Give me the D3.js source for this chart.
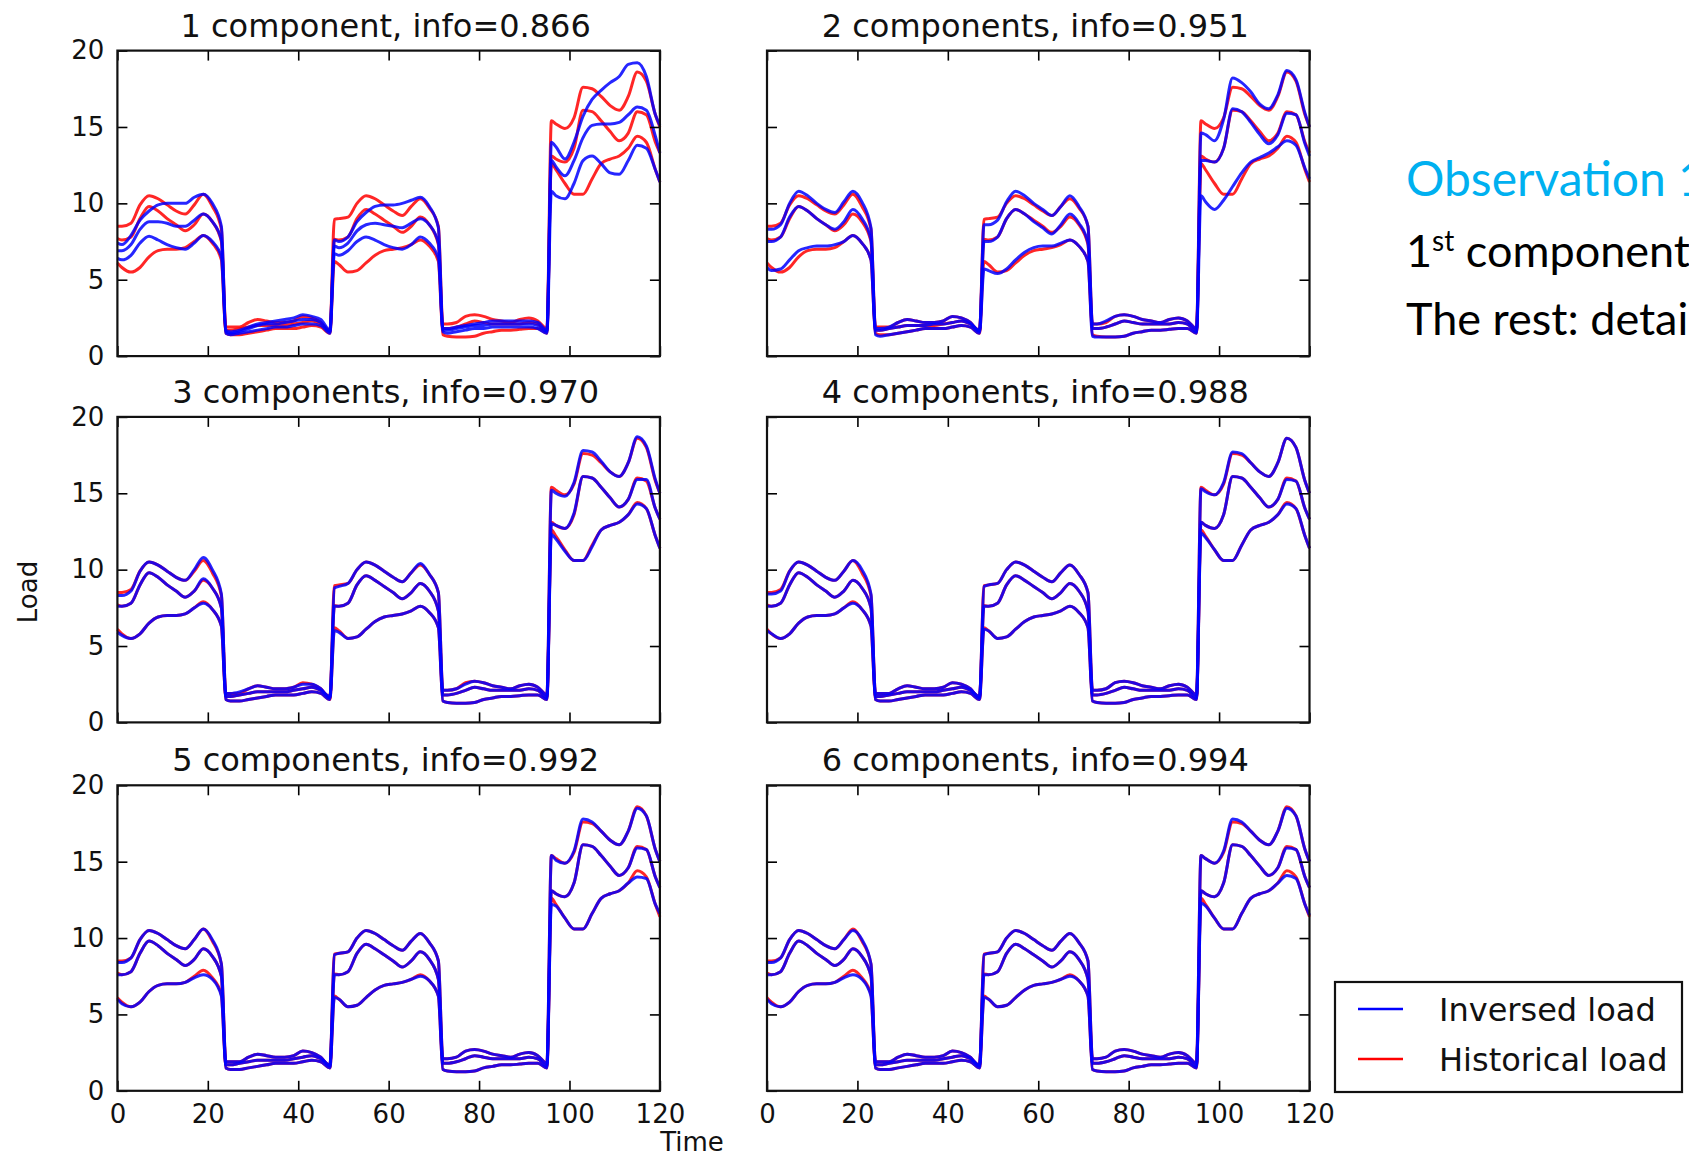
<!DOCTYPE html>
<html>
<head>
<meta charset="utf-8">
<script src="https://cdn.jsdelivr.net/npm/d3@7"></script>
<style>
  body { margin: 0; background: #fff; overflow: hidden; }
  svg { display: block; }
</style>
</head>
<body>
<svg id="chart" width="1689" height="1157"></svg>
<script>
'use strict';

// Data
// Hours at which the curves were read (5 days, day / night blocks of 24h)
let hours = [
  0,1,3,5,7,9,11,13,15,17,19,21,23,
  24,25,27,29,31,33,35,37,39,41,43,45,47,
  48,49,51,53,55,57,59,61,63,65,67,69,71,
  72,73,75,77,79,81,83,85,87,89,91,93,95,
  96,97,99,101,103,105,107,109,111,113,115,117,119,120
];

// Historical load, same three curves in every panel
let historicalLoad = [
  [8.5,8.5,8.7,9.9,10.5,10.3,9.9,9.5,9.3,9.9,10.6,9.8,8.3,
   1.9,1.9,1.9,2.2,2.4,2.3,2.2,2.2,2.3,2.6,2.5,2.2,1.6,
   8.95,9.0,9.1,10.0,10.5,10.3,9.9,9.5,9.2,9.8,10.3,9.7,8.5,
   2.1,2.1,2.2,2.6,2.7,2.6,2.4,2.3,2.2,2.4,2.5,2.3,1.8,
   15.4,15.2,14.9,15.6,17.6,17.5,17.0,16.4,16.1,17.0,18.6,18.0,15.8,15.0],
  [7.7,7.6,7.8,9.0,9.8,9.5,9.0,8.6,8.2,8.6,9.3,8.8,7.5,
   1.7,1.7,1.8,1.9,2.0,2.0,2.0,2.0,2.1,2.2,2.3,2.1,1.7,
   7.65,7.6,7.8,9.0,9.6,9.3,8.9,8.5,8.1,8.5,9.1,8.6,7.3,
   1.8,1.8,1.9,2.1,2.3,2.2,2.1,2.1,2.1,2.1,2.2,2.1,1.6,
   13.1,12.9,12.7,13.6,16.1,16.0,15.4,14.7,14.1,14.6,16.0,15.8,14.0,13.3],
  [6.1,5.8,5.5,5.8,6.5,6.9,7.0,7.0,7.1,7.5,7.9,7.4,6.3,
   1.5,1.4,1.4,1.5,1.6,1.7,1.8,1.8,1.8,1.9,2.0,1.9,1.5,
   6.2,6.0,5.5,5.6,6.1,6.6,6.9,7.0,7.1,7.3,7.6,7.2,6.2,
   1.4,1.3,1.25,1.25,1.3,1.5,1.6,1.7,1.7,1.75,1.8,1.8,1.5,
   12.6,12.2,11.3,10.6,10.6,11.6,12.6,12.9,13.1,13.6,14.4,14.0,12.2,11.4]
];

// Inversed (reconstructed) load, one set per panel
let inversed1 = [
  [7.4,7.3,7.9,8.9,9.5,9.9,10.0,10.0,10.0,10.4,10.6,10.0,8.5,
   1.7,1.6,1.7,1.9,2.1,2.2,2.3,2.4,2.5,2.7,2.6,2.4,1.7,
   7.6,7.5,7.8,8.8,9.4,9.8,9.9,9.9,10.0,10.2,10.4,9.8,8.4,
   1.8,1.8,1.9,2.0,2.1,2.2,2.3,2.3,2.3,2.3,2.3,2.2,1.7,
   14.0,13.7,12.9,14.0,15.7,16.8,17.4,17.9,18.3,19.1,19.2,18.3,15.8,15.1],
  [6.9,6.9,7.3,8.3,8.8,8.8,8.7,8.5,8.5,8.9,9.3,8.8,7.6,
   1.6,1.5,1.6,1.8,2.0,2.1,2.1,2.2,2.3,2.4,2.4,2.2,1.6,
   7.2,7.1,7.4,8.2,8.6,8.7,8.6,8.5,8.4,8.7,9.0,8.6,7.4,
   1.7,1.7,1.8,1.9,2.0,2.0,2.1,2.1,2.1,2.1,2.1,2.0,1.6,
   12.8,12.4,11.8,12.8,14.3,15.1,15.2,15.2,15.3,15.8,16.3,16.1,14.4,13.3],
  [6.4,6.3,6.6,7.4,7.85,7.6,7.3,7.1,7.0,7.4,7.9,7.5,6.5,
   1.5,1.4,1.5,1.6,1.7,1.8,1.9,1.9,2.0,2.1,2.1,2.0,1.5,
   6.7,6.6,6.9,7.5,7.8,7.6,7.3,7.1,7.0,7.3,7.8,7.4,6.4,
   1.6,1.5,1.6,1.7,1.8,1.8,1.9,1.9,1.9,1.9,1.9,1.8,1.5,
   10.8,10.5,10.3,11.3,12.8,13.1,12.6,12.0,11.9,12.8,13.8,13.6,12.2,11.4]
];
let inversed2 = [
  [8.3,8.3,8.6,10.0,10.8,10.5,10.0,9.6,9.4,10.1,10.8,10.1,8.4,
   1.8,1.8,1.9,2.2,2.4,2.3,2.2,2.2,2.3,2.6,2.5,2.2,1.6,
   8.6,8.6,8.9,10.1,10.8,10.5,10.0,9.6,9.2,9.8,10.5,9.8,8.5,
   2.1,2.1,2.3,2.6,2.7,2.6,2.4,2.3,2.2,2.4,2.5,2.3,1.8,
   14.6,14.5,14.1,15.5,18.2,17.9,17.3,16.5,16.2,17.1,18.7,18.1,15.9,15.0],
  [7.5,7.5,7.8,9.1,9.8,9.5,9.0,8.6,8.3,8.8,9.6,9.0,7.6,
   1.7,1.7,1.8,1.9,2.0,2.0,2.0,2.1,2.1,2.2,2.3,2.1,1.7,
   7.5,7.5,7.8,9.0,9.6,9.3,8.8,8.4,8.0,8.6,9.3,8.7,7.4,
   1.8,1.8,1.9,2.1,2.3,2.2,2.1,2.1,2.1,2.1,2.2,2.1,1.6,
   12.8,12.8,12.7,13.6,16.2,16.0,15.3,14.5,13.9,14.5,15.9,15.8,13.9,13.1],
  [5.8,5.6,5.7,6.3,6.9,7.1,7.2,7.2,7.3,7.5,7.9,7.4,6.3,
   1.4,1.3,1.4,1.5,1.6,1.7,1.8,1.8,1.8,1.9,2.0,1.9,1.5,
   5.7,5.6,5.4,5.7,6.3,6.8,7.1,7.2,7.2,7.4,7.6,7.2,6.2,
   1.3,1.25,1.25,1.25,1.3,1.5,1.6,1.7,1.7,1.75,1.8,1.8,1.5,
   10.5,10.1,9.6,10.2,11.1,12.0,12.7,13.0,13.3,13.7,14.1,13.8,12.3,11.6]
];
let inversed3 = [
  [8.3,8.3,8.6,9.9,10.5,10.3,9.9,9.5,9.3,10.0,10.8,10.0,8.4,
   1.9,1.9,2.0,2.2,2.4,2.3,2.2,2.2,2.3,2.5,2.5,2.2,1.6,
   8.8,8.9,9.1,10.0,10.5,10.3,9.9,9.5,9.2,9.8,10.4,9.7,8.5,
   2.1,2.1,2.2,2.5,2.7,2.6,2.4,2.3,2.2,2.4,2.5,2.3,1.8,
   15.2,15.0,14.8,15.7,17.8,17.7,17.1,16.4,16.1,17.0,18.7,18.1,15.9,15.0],
  [7.6,7.6,7.8,9.0,9.8,9.5,9.0,8.6,8.2,8.6,9.4,8.8,7.5,
   1.7,1.7,1.8,1.9,2.0,2.0,2.0,2.0,2.1,2.2,2.3,2.1,1.7,
   7.6,7.6,7.8,9.0,9.6,9.3,8.9,8.5,8.1,8.5,9.1,8.6,7.3,
   1.8,1.8,1.9,2.1,2.3,2.2,2.1,2.1,2.1,2.1,2.2,2.1,1.6,
   13.0,12.9,12.7,13.7,16.1,16.0,15.4,14.7,14.1,14.6,15.9,15.9,14.0,13.3],
  [5.9,5.7,5.5,5.8,6.5,6.9,7.0,7.0,7.1,7.5,7.8,7.4,6.3,
   1.5,1.4,1.4,1.5,1.6,1.7,1.8,1.8,1.8,1.9,2.0,1.9,1.5,
   6.0,5.9,5.5,5.6,6.1,6.6,6.9,7.0,7.1,7.3,7.6,7.2,6.2,
   1.4,1.3,1.25,1.25,1.3,1.5,1.6,1.7,1.7,1.75,1.8,1.8,1.5,
   12.3,12.0,11.2,10.6,10.6,11.5,12.6,12.9,13.1,13.6,14.3,14.0,12.2,11.4]
];
let inversed4 = [
  [8.4,8.4,8.6,9.9,10.5,10.3,9.9,9.5,9.3,9.9,10.6,10.0,8.4,
   1.9,1.9,1.9,2.2,2.4,2.3,2.2,2.2,2.3,2.6,2.5,2.2,1.6,
   8.9,9.0,9.1,10.0,10.5,10.3,9.9,9.5,9.2,9.8,10.3,9.7,8.5,
   2.1,2.1,2.2,2.6,2.7,2.6,2.4,2.3,2.2,2.4,2.5,2.3,1.8,
   15.3,15.1,14.9,15.7,17.7,17.6,17.0,16.4,16.1,17.0,18.6,18.0,15.8,15.0],
  [7.6,7.6,7.8,9.0,9.8,9.5,9.0,8.6,8.2,8.6,9.3,8.8,7.5,
   1.7,1.7,1.8,1.9,2.0,2.0,2.0,2.0,2.1,2.2,2.3,2.1,1.7,
   7.6,7.6,7.8,9.0,9.6,9.3,8.9,8.5,8.1,8.5,9.1,8.6,7.3,
   1.8,1.8,1.9,2.1,2.3,2.2,2.1,2.1,2.1,2.1,2.2,2.1,1.6,
   13.1,12.9,12.7,13.6,16.1,16.0,15.4,14.7,14.1,14.6,15.9,15.8,14.0,13.3],
  [6.0,5.8,5.5,5.8,6.5,6.9,7.0,7.0,7.1,7.5,7.8,7.4,6.3,
   1.5,1.4,1.4,1.5,1.6,1.7,1.8,1.8,1.8,1.9,2.0,1.9,1.5,
   6.1,6.0,5.5,5.6,6.1,6.6,6.9,7.0,7.1,7.3,7.6,7.2,6.2,
   1.4,1.3,1.25,1.25,1.3,1.5,1.6,1.7,1.7,1.75,1.8,1.8,1.5,
   12.4,12.1,11.3,10.6,10.6,11.6,12.6,12.9,13.1,13.6,14.3,14.0,12.2,11.4]
];
let inversed5 = [
  [8.4,8.4,8.7,9.9,10.5,10.3,9.9,9.5,9.3,9.9,10.6,9.9,8.3,
   1.9,1.9,1.9,2.2,2.4,2.3,2.2,2.2,2.3,2.6,2.5,2.2,1.6,
   8.9,9.0,9.1,10.0,10.5,10.3,9.9,9.5,9.2,9.8,10.3,9.7,8.5,
   2.1,2.1,2.2,2.6,2.7,2.6,2.4,2.3,2.2,2.4,2.5,2.3,1.8,
   15.4,15.1,14.9,15.7,17.8,17.6,17.0,16.4,16.1,17.0,18.5,18.0,15.8,15.0],
  [7.6,7.6,7.8,9.0,9.8,9.5,9.0,8.6,8.2,8.6,9.3,8.8,7.5,
   1.7,1.7,1.8,1.9,2.0,2.0,2.0,2.0,2.1,2.2,2.3,2.1,1.7,
   7.6,7.6,7.8,9.0,9.6,9.3,8.9,8.5,8.1,8.5,9.1,8.6,7.3,
   1.8,1.8,1.9,2.1,2.3,2.2,2.1,2.1,2.1,2.1,2.2,2.1,1.6,
   13.1,12.9,12.7,13.6,16.1,16.0,15.4,14.7,14.1,14.6,15.9,15.8,14.0,13.3],
  [6.0,5.7,5.5,5.8,6.5,6.9,7.0,7.0,7.1,7.4,7.6,7.3,6.2,
   1.5,1.4,1.4,1.5,1.6,1.7,1.8,1.8,1.8,1.9,2.0,1.9,1.5,
   6.1,6.0,5.5,5.6,6.1,6.6,6.9,7.0,7.1,7.3,7.5,7.2,6.2,
   1.4,1.3,1.25,1.25,1.3,1.5,1.6,1.7,1.7,1.75,1.8,1.8,1.5,
   12.2,12.1,11.3,10.6,10.6,11.6,12.6,12.9,13.1,13.6,14.0,13.9,12.2,11.6]
];
let inversed6 = [
  [8.4,8.4,8.7,9.9,10.5,10.3,9.9,9.5,9.3,9.9,10.5,9.9,8.3,
   1.9,1.9,1.9,2.2,2.4,2.3,2.2,2.2,2.3,2.6,2.5,2.2,1.6,
   8.9,9.0,9.1,10.0,10.5,10.3,9.9,9.5,9.2,9.8,10.3,9.7,8.5,
   2.1,2.1,2.2,2.6,2.7,2.6,2.4,2.3,2.2,2.4,2.5,2.3,1.8,
   15.4,15.2,14.9,15.7,17.8,17.6,17.0,16.4,16.1,17.0,18.5,18.0,15.8,15.0],
  [7.6,7.6,7.8,9.0,9.8,9.5,9.0,8.6,8.2,8.6,9.3,8.8,7.5,
   1.7,1.7,1.8,1.9,2.0,2.0,2.0,2.0,2.1,2.2,2.3,2.1,1.7,
   7.6,7.6,7.8,9.0,9.6,9.3,8.9,8.5,8.1,8.5,9.1,8.6,7.3,
   1.8,1.8,1.9,2.1,2.3,2.2,2.1,2.1,2.1,2.1,2.2,2.1,1.6,
   13.1,12.9,12.7,13.6,16.1,16.0,15.4,14.7,14.1,14.6,15.9,15.8,14.0,13.3],
  [6.0,5.7,5.5,5.8,6.5,6.9,7.0,7.0,7.1,7.4,7.6,7.3,6.2,
   1.5,1.4,1.4,1.5,1.6,1.7,1.8,1.8,1.8,1.9,2.0,1.9,1.5,
   6.1,6.0,5.5,5.6,6.1,6.6,6.9,7.0,7.1,7.3,7.5,7.2,6.2,
   1.4,1.3,1.25,1.25,1.3,1.5,1.6,1.7,1.7,1.75,1.8,1.8,1.5,
   12.3,12.1,11.3,10.6,10.6,11.6,12.6,12.9,13.1,13.6,14.1,13.9,12.2,11.5]
];
let inversedLoad = [inversed1, inversed2, inversed3, inversed4, inversed5, inversed6];

let panelComponents = [1, 2, 3, 4, 5, 6];
let panelInfo = ['0.866', '0.951', '0.970', '0.988', '0.992', '0.994'];
let xTicks = [0, 20, 40, 60, 80, 100, 120];
let yTicks = [0, 5, 10, 15, 20];
let legendLabels = ['Inversed load', 'Historical load'];
let noteTitle = 'Observation 1';
let noteLine2 = ['1', 'st', ' component'];
let noteLine3 = 'The rest: details';

// Formatting
let format = {
  colX: [117.4, 767],
  rowY: [50.6, 416.9, 785.3],
  width: 542.5,
  height: 305.5,
  tickLen: 10,
  titleGap: 14,
};
let fontFamily = "'DejaVu Sans', sans-serif";
let invColor = '#0000ff';
let histColor = '#ff0000';
let lineWidth = 3;

let svg = d3.select('#chart');

let defs = svg.append('defs');
defs.append('filter').attr('id', 'soft')
  .attr('x', '-2%').attr('y', '-2%').attr('width', '104%').attr('height', '104%')
  .append('feGaussianBlur').attr('stdDeviation', 0.75);

function styleAxis(g){
  g.select('.domain').remove();
  g.selectAll('.tick line').attr('stroke', '#000').attr('stroke-width', 1.6);
  g.selectAll('.tick text')
    .attr('fill', '#111')
    .style('font-family', fontFamily)
    .style('font-size', '26px');
}

function createPanel(idx){
  let col = idx % 2;
  let row = Math.floor(idx / 2);
  let g = svg.append('g')
    .attr('transform', `translate(${format.colX[col]},${format.rowY[row]})`);

  let xScale = d3.scaleLinear().domain([0, 120]).range([0, format.width]);
  let yScale = d3.scaleLinear().domain([0, 20]).range([format.height, 0]);

  let line = d3.line()
    .x((d, i) => xScale(hours[i]))
    .y((d) => yScale(d))
    .curve(d3.curveMonotoneX);

  let lines = g.append('g').attr('filter', 'url(#soft)');
  lines.selectAll('path.hist')
    .data(historicalLoad)
    .enter()
    .append('path')
    .attr('class', 'hist')
    .attr('d', line)
    .attr('fill', 'none')
    .attr('stroke', histColor)
    .attr('stroke-opacity', 0.85)
    .attr('stroke-width', lineWidth);
  lines.selectAll('path.inv')
    .data(inversedLoad[idx])
    .enter()
    .append('path')
    .attr('class', 'inv')
    .attr('d', line)
    .attr('fill', 'none')
    .attr('stroke', invColor)
    .attr('stroke-opacity', 0.85)
    .attr('stroke-width', lineWidth);

  // ticks point inwards on all four sides
  let bottomAxis = d3.axisBottom(xScale).tickValues(xTicks)
    .tickSizeInner(-format.tickLen).tickSizeOuter(0).tickPadding(14);
  if(row < 2) bottomAxis.tickFormat('');
  let topAxis = d3.axisTop(xScale).tickValues(xTicks)
    .tickSizeInner(-format.tickLen).tickSizeOuter(0).tickFormat('');
  let leftAxis = d3.axisLeft(yScale).tickValues(yTicks)
    .tickSizeInner(-format.tickLen).tickSizeOuter(0).tickPadding(13);
  if(col > 0) leftAxis.tickFormat('');
  let rightAxis = d3.axisRight(yScale).tickValues(yTicks)
    .tickSizeInner(-format.tickLen).tickSizeOuter(0).tickFormat('');

  g.append('g').attr('transform', `translate(0,${format.height})`).call(bottomAxis).call(styleAxis);
  g.append('g').call(topAxis).call(styleAxis);
  g.append('g').call(leftAxis).call(styleAxis);
  g.append('g').attr('transform', `translate(${format.width},0)`).call(rightAxis).call(styleAxis);

  g.append('rect')
    .attr('width', format.width)
    .attr('height', format.height)
    .attr('fill', 'none')
    .attr('stroke', '#111')
    .attr('stroke-width', 2.2);

  let n = panelComponents[idx];
  g.append('text')
    .attr('x', format.width / 2 - 3)
    .attr('y', -format.titleGap)
    .attr('text-anchor', 'middle')
    .attr('fill', '#111')
    .style('font-family', fontFamily)
    .style('font-size', '32px')
    .text(`${n} component${n > 1 ? 's' : ''}, info=${panelInfo[idx]}`);
}

panelComponents.forEach((d, i) => createPanel(i));

// axis labels
svg.append('text')
  .attr('x', 692).attr('y', 1151)
  .attr('text-anchor', 'middle')
  .attr('fill', '#111')
  .style('font-family', fontFamily).style('font-size', '26px')
  .text('Time');
svg.append('text')
  .attr('transform', 'translate(37,592) rotate(-90)')
  .attr('text-anchor', 'middle')
  .attr('fill', '#111')
  .style('font-family', fontFamily).style('font-size', '26px')
  .text('Load');

// legend
let legend = svg.append('g').attr('transform', 'translate(1335,982)');
legend.append('rect')
  .attr('width', 347).attr('height', 110)
  .attr('fill', '#fff').attr('stroke', '#111').attr('stroke-width', 2.2);
legend.selectAll('g.item')
  .data(legendLabels)
  .enter()
  .append('g')
  .attr('class', 'item')
  .each(function(d, i){
    let item = d3.select(this).attr('transform', `translate(0,${27 + i * 50})`);
    item.append('line')
      .attr('x1', 23).attr('x2', 68)
      .attr('stroke', i === 0 ? invColor : histColor)
      .attr('stroke-width', 2.6);
    item.append('text')
      .attr('x', 104).attr('y', 12)
      .attr('fill', '#111')
      .style('font-family', fontFamily).style('font-size', '32px')
      .text(d);
  });

// note on the right
let noteFont = "Lato, 'Open Sans', sans-serif";
svg.append('text')
  .attr('x', 1406).attr('y', 196)
  .attr('fill', '#00b0f0')
  .style('font-family', noteFont).style('font-size', '48px')
  .text(noteTitle);
let line2 = svg.append('text')
  .attr('x', 1406).attr('y', 267)
  .attr('fill', '#000')
  .style('font-family', noteFont).style('font-size', '45px');
line2.append('tspan').text(noteLine2[0]);
line2.append('tspan').attr('dy', -16).style('font-size', '28px').text(noteLine2[1]);
line2.append('tspan').attr('dy', 16).text(noteLine2[2]);
svg.append('text')
  .attr('x', 1406).attr('y', 335)
  .attr('fill', '#000')
  .style('font-family', noteFont).style('font-size', '45px')
  .text(noteLine3);
</script>
</body>
</html>
